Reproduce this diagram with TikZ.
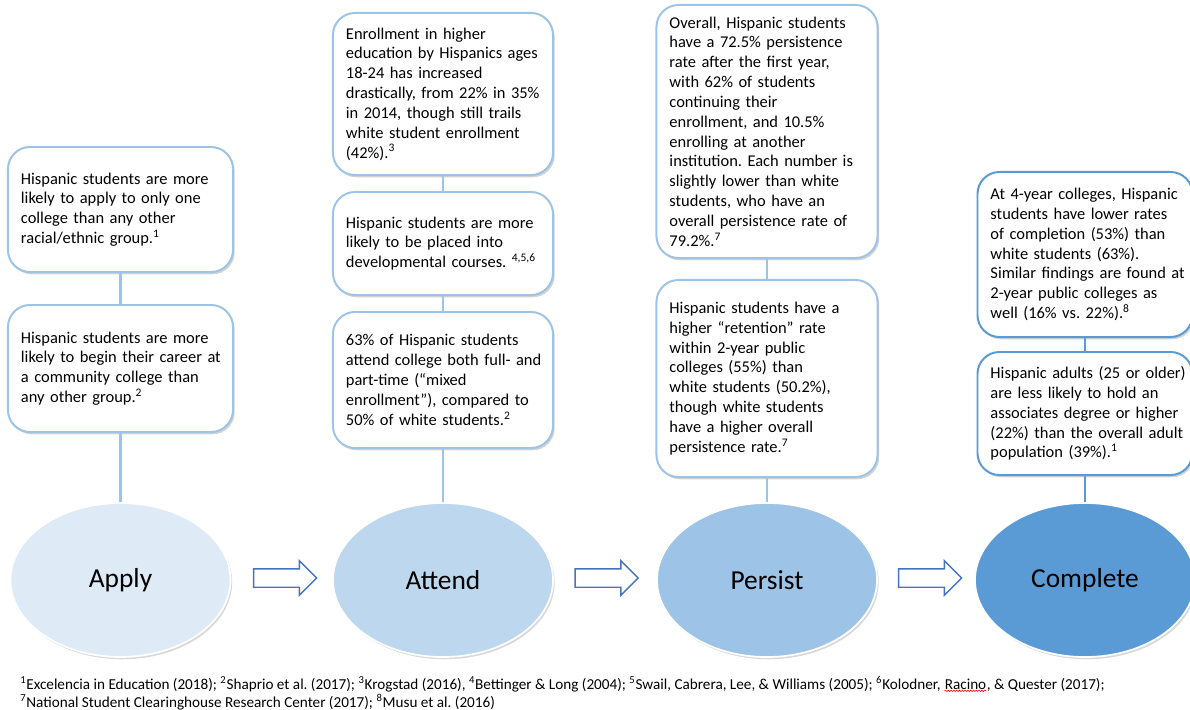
\documentclass[tikz,border=0pt]{standalone}
\usepackage{fontspec}
\setmainfont{Carlito}
\usetikzlibrary{shapes.geometric,shapes.arrows,shadows,decorations.pathmorphing}
\definecolor{stageA}{HTML}{DEEBF7}
\definecolor{stageB}{HTML}{BDD7EE}
\definecolor{stageC}{HTML}{9DC3E6}
\definecolor{stageD}{HTML}{5B9BD5}
\definecolor{lineblue}{HTML}{9DC3E6}
\definecolor{darkline}{HTML}{5B9BD5}
\definecolor{arrblue}{HTML}{4472C4}
\frenchspacing

\begin{document}
\begin{tikzpicture}[x=0.025cm, y=-0.025cm, font=\fontsize{11.7}{14.1}\selectfont,
          fact/.style={draw=lineblue, line width=1.4pt, fill=white, rounded corners=0.55cm, align=left,
            inner xsep=0.025cm, inner ysep=0pt, execute at begin node={\leftskip=0.3cm},
            drop shadow={shadow xshift=1.2pt, shadow yshift=-1.6pt, opacity=0.35}},
          stage/.style={ellipse, draw=white, line width=1.2pt, minimum width=5.5cm, minimum height=3.85cm,
            font=\fontsize{19.5}{23}\selectfont, drop shadow={shadow xshift=1.2pt, shadow yshift=-1.6pt, opacity=0.3}},
          blockarr/.style={single arrow, draw=arrblue, line width=1pt, fill=white, minimum height=1.575cm,
            minimum width=0.825cm, inner xsep=0pt, inner ysep=0.2125cm, single arrow head extend=0.2cm},
          link/.style={draw=lineblue, line width=1.6pt},
          ref/.style={anchor=base west, inner sep=0pt, font=\fontsize{10.8}{13}\selectfont}]
        \useasboundingbox (0,0) rectangle (1190,710);
        % stages
        \node[stage, fill=stageA] (apply) at (120.5,580) {Apply};
        \node[stage, fill=stageB] (attend) at (443,580) {Attend};
        \node[stage, fill=stageC] (persist) at (767,580) {Persist};
        \node[stage, fill=stageD] (complete) at (1085,580) {Complete};
        \node[blockarr] (arr1) at (280.5,578) {};
        \node[blockarr] (arr2) at (602,578) {};
        \node[blockarr] (arr3) at (925.5,578) {};
        % apply
        \node[fact, text width=5.575cm, minimum height=3.125cm] (apply1) at (120.5,209.5)
          {Hispanic students are more\\likely to apply to only one\\college than any other\\racial/ethnic group.\textsuperscript{1}};
        \node[fact, text width=5.575cm, minimum height=3.175cm] (apply2) at (120.5,368.5)
          {Hispanic students are more\\likely to begin their career at\\a community college than\\any other group.\textsuperscript{2}};
        \draw[link] (apply1) -- (apply2);
        \draw[link] (apply2) -- (apply);
        % attend
        \node[fact, text width=5.45cm, minimum height=4.05cm] (attend1) at (443,94)
          {Enrollment in higher\\education by Hispanics ages\\18-24 has increased\\drastically, from 22\% in 35\%\\in 2014, though still trails\\white student enrollment\\(42\%).\textsuperscript{3}};
        \node[fact, text width=5.45cm, minimum height=2.575cm] (attend2) at (443,243.5)
          {Hispanic students are more\\likely to be placed into\\developmental courses. \textsuperscript{4,5,6}};
        \node[fact, text width=5.45cm, minimum height=3.4cm] (attend3) at (443,380)
          {63\% of Hispanic students\\attend college both full- and\\part-time (“mixed\\enrollment”), compared to\\50\% of white students.\textsuperscript{2}};
        \draw[link] (attend1) -- (attend2);
        \draw[link] (attend2) -- (attend3);
        \draw[link] (attend3) -- (attend);
        % persist
        \node[fact, text width=5.475cm, minimum height=6.325cm] (persist1) at (767,131.5)
          {Overall, Hispanic students\\have a 72.5\% persistence\\rate after the first year,\\with 62\% of students\\continuing their\\enrollment, and 10.5\%\\enrolling at another\\institution. Each number is\\slightly lower than white\\students, who have an\\overall persistence rate of\\79.2\%.\textsuperscript{7}};
        \node[fact, text width=5.475cm, minimum height=4.925cm] (persist2) at (767,378.5)
          {Hispanic students have a\\higher “retention” rate\\within 2-year public\\colleges (55\%) than\\white students (50.2\%),\\though white students\\have a higher overall\\persistence rate.\textsuperscript{7}};
        \draw[link] (persist1) -- (persist2);
        \draw[link] (persist2) -- (persist);
        % complete
        \node[fact, draw=darkline, text width=5.325cm, minimum height=4.125cm] (complete1) at (1085,254.5)
          {At 4-year colleges, Hispanic\\students have lower rates\\of completion (53\%) than\\white students (63\%).\\Similar findings are found at\\2-year public colleges as\\well (16\% vs. 22\%).\textsuperscript{8}};
        \node[fact, draw=darkline, text width=5.325cm, minimum height=3.075cm] (complete2) at (1085,413.5)
          {Hispanic adults (25 or older)\\are less likely to hold an\\associates degree or higher\\(22\%) than the overall adult\\population (39\%).\textsuperscript{1}};
        \draw[link, draw=darkline] (complete1) -- (complete2);
        \draw[link, draw=darkline] (complete2) -- (complete);
        % sources
        \node[ref] (refs1) at (20,689) {\textsuperscript{1}Excelencia in Education (2018); \textsuperscript{2}Shaprio et al. (2017); \textsuperscript{3}Krogstad (2016), \textsuperscript{4}Bettinger \& Long (2004); \textsuperscript{5}Swail, Cabrera, Lee, \& Williams (2005); \textsuperscript{6}Kolodner,};
        \node[ref] (racino) at ([xshift=2.5pt]refs1.base east) {Racino};
        \node[ref] (refs2) at (racino.base east) {, \& Quester (2017);};
        \node[ref] (refs3) at (20,707) {\textsuperscript{7}National Student Clearinghouse Research Center (2017); \textsuperscript{8}Musu et al. (2016)};
        \draw[red, line width=0.4pt, decorate, decoration={snake, amplitude=0.5pt, segment length=2pt}]
          ([yshift=-1pt]racino.south west) -- ([yshift=-1pt]racino.south east);
      \end{tikzpicture}
\end{document}
